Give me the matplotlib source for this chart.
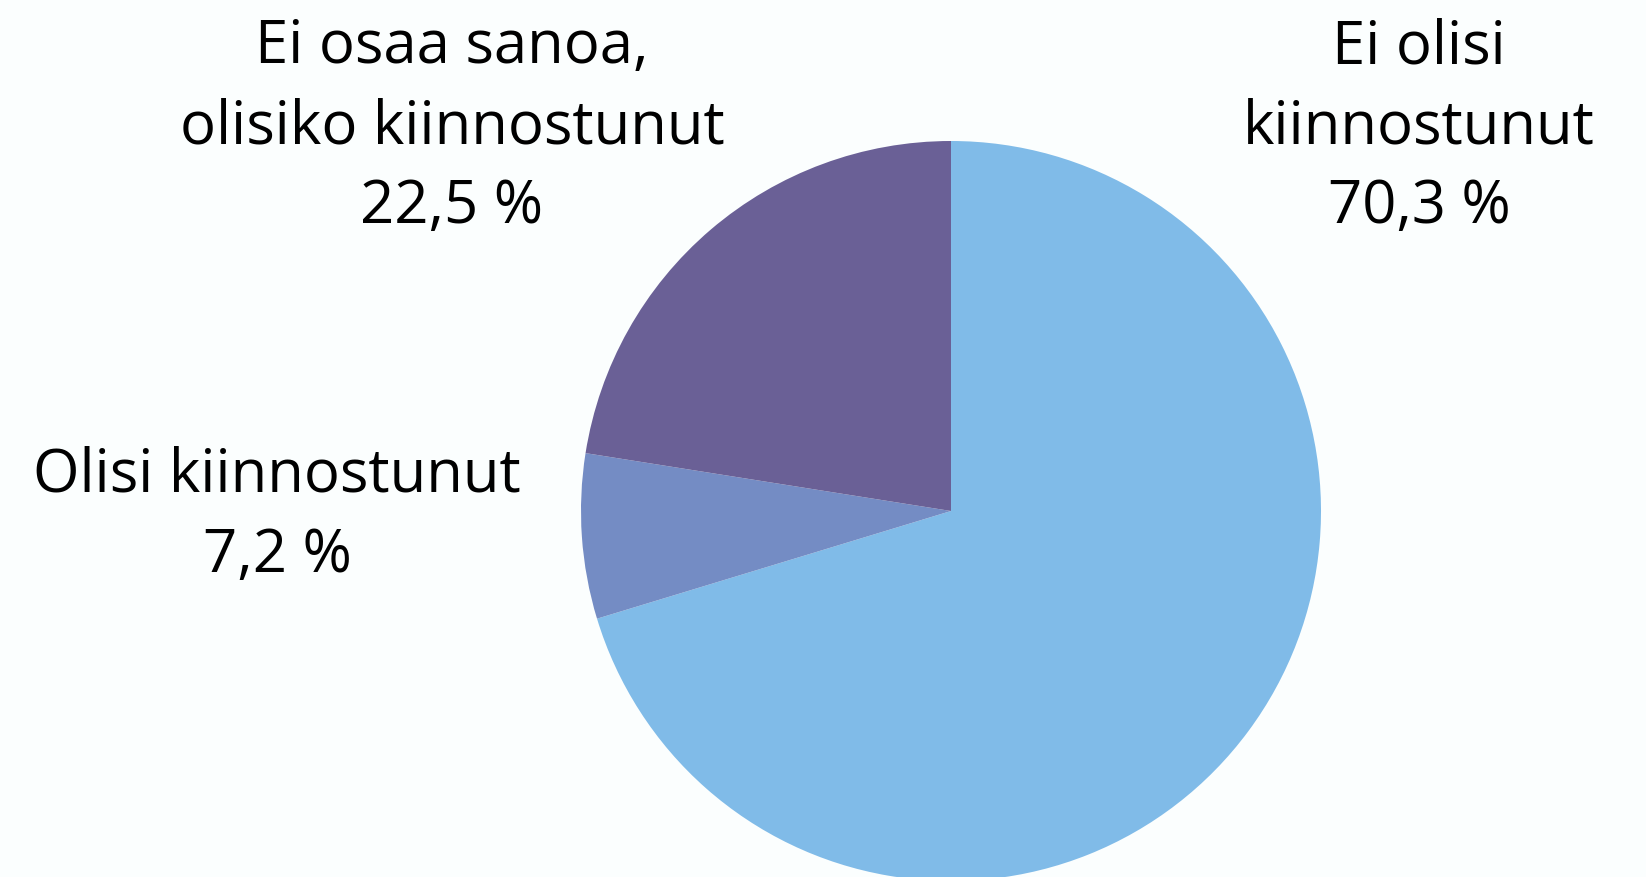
import matplotlib.pyplot as plt

# values (%)
labels = ['Ei olisi\nkiinnostunut', 'Olisi kiinnostunut', 'Ei osaa sanoa,\nolisiko kiinnostunut']
values = [70.3, 7.2, 22.5]
colors = ['#80BBE8', '#748CC4', '#6A6096']

plt.rcParams['font.family'] = ['Open Sans', 'DejaVu Sans']

W, H = 1646, 877
fig = plt.figure(figsize=(W / 100, H / 100), dpi=100, facecolor='#FBFEFE')
ax = fig.add_axes([0, 0, 1, 1])

ax.pie(values, colors=colors, startangle=90, counterclock=False,
       center=(951, H - 511), radius=370, frame=True,
       wedgeprops=dict(linewidth=0))
ax.set_xlim(0, W)
ax.set_ylim(0, H)
ax.set_aspect('equal')
ax.axis('off')

# label positions (pixels)
label_pos = [(1419, 47), (277, 476), (452, 47)]
for lab, v, (x, y) in zip(labels, values, label_pos):
    txt = lab + '\n' + f'{v:.1f}'.replace('.', ',') + ' %'
    lines = txt.split('\n')
    for i, line in enumerate(lines):
        ax.text(x, H - (y + i * 80), line, ha='center', va='center',
                fontsize=43, color='black')

fig.savefig('out.png', dpi=100, facecolor=fig.get_facecolor())
